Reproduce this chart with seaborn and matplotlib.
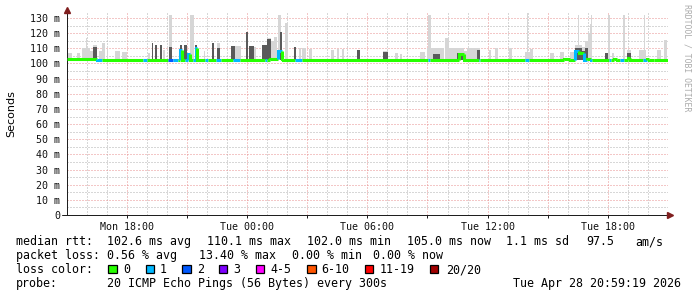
import matplotlib
matplotlib.use("Agg")
import matplotlib.pyplot as plt
from matplotlib.patches import Rectangle
from matplotlib.ticker import MultipleLocator
import seaborn as sns

# ---------------- data (time in hours since Mon 15:00) ----------------
x_tick_hours = [3, 6, 9, 12, 15, 18, 21, 24, 27]
x_tick_labels = ["Mon 18:00", "", "Tue 00:00", "", "Tue 06:00", "", "Tue 12:00", "", "Tue 18:00"]
y_tick_values = [0, 10, 20, 30, 40, 50, 60, 70, 80, 90, 100, 110, 120, 130]
y_tick_labels = ["0", "10 m", "20 m", "30 m", "40 m", "50 m", "60 m", "70 m",
                 "80 m", "90 m", "100 m", "110 m", "120 m", "130 m"]

# smoke (ping spread) blocks: start hour, end hour, light top (ms), dark top (ms, 0 = none)
smoke_start = [0.08, 0.5, 0.75, 0.98, 1.17, 1.3, 1.62, 1.75, 2.0, 2.42, 2.75, 4.08, 4.25, 4.42, 4.63,
               4.8, 5.08, 5.63, 5.83, 6.13, 6.38, 6.83, 7.25, 7.5, 8.2, 8.38, 8.97, 9.08, 9.33,
               9.75, 10.0, 10.17, 10.33, 10.55, 10.63, 10.88, 11.33, 11.58, 11.75, 12.08, 13.17,
               13.5, 13.75, 14.47, 15.8, 16.38, 16.63, 17.63, 17.97, 18.05, 18.17, 18.3, 18.88,
               19.05, 19.47, 19.8, 19.97, 20.47, 21.05, 21.38, 22.05, 22.88, 22.98, 23.13, 24.13,
               24.63, 25.13, 25.38, 25.5, 25.72, 25.88, 26.0, 26.1, 26.15, 26.88, 27.0, 27.22,
               27.77, 27.97, 28.55, 28.8, 29.47, 29.8]
smoke_end = [0.25, 0.67, 1.17, 1.03, 1.3, 1.5, 1.75, 1.92, 2.08, 2.67, 3.0, 4.17, 4.33, 4.5, 4.75,
             4.92, 5.25, 5.75, 6.0, 6.33, 6.5, 6.92, 7.33, 7.67, 8.38, 8.72, 9.05, 9.33, 9.45,
             10.0, 10.17, 10.33, 10.5, 10.67, 10.75, 11.02, 11.42, 11.67, 11.92, 12.25, 13.33,
             13.58, 13.83, 14.63, 16.05, 16.55, 16.72, 17.88, 18.05, 18.17, 18.8, 18.6, 19.05,
             19.47, 19.8, 19.97, 20.47, 20.63, 21.17, 21.5, 22.22, 23.13, 23.03, 23.25, 24.3,
             24.8, 25.38, 25.72, 25.55, 25.88, 26.0, 26.1, 26.22, 26.22, 27.0, 27.1, 27.3,
             27.83, 28.13, 28.88, 28.87, 29.63, 29.97]
smoke_light = [106.7, 106.7, 110.0, 116.6, 108.5, 112.0, 108.0, 113.7, 108.0, 108.5, 107.8, 106.7, 113.3,
               112.2, 112.2, 109.0, 132.0, 112.2, 112.2, 132.0, 112.2, 108.0, 113.3, 113.3, 111.5,
               111.5, 121.0, 111.5, 111.0, 112.4, 116.6, 115.0, 117.5, 132.0, 121.0, 126.5, 111.0,
               110.0, 110.0, 109.5, 108.6, 109.5, 109.5, 109.0, 108.5, 106.7, 106.0, 107.5, 110.0,
               132.0, 110.0, 110.0, 117.0, 110.0, 110.0, 108.0, 110.0, 110.0, 108.9, 110.0, 110.0,
               107.5, 133.0, 109.5, 106.7, 107.8, 107.8, 112.0, 132.0, 111.0, 115.0, 120.0, 126.0,
               132.0, 106.7, 132.0, 106.7, 132.0, 108.9, 108.9, 132.0, 108.9, 115.5]
smoke_dark = [0, 0, 0, 0, 0, 110.8, 0, 0, 0, 0, 0, 0, 113.3,
              112.2, 112.2, 0, 110.8, 112.2, 112.2, 0, 112.2, 0, 113.3, 110.0, 111.5,
              0, 121.0, 111.5, 0, 112.4, 116.0, 0, 0, 0, 121.0, 0, 111.0,
              0, 0, 0, 0, 0, 0, 109.0, 107.8, 0, 0, 0, 0,
              0, 0, 106.0, 0, 0, 107.0, 0, 0, 108.9, 0, 0, 0,
              0, 0, 0, 0, 0, 0, 110.0, 0, 108.0, 110.0, 0, 0,
              0, 106.7, 0, 0, 0, 106.7, 0, 0, 0, 0]

# median rtt segments: start hour, value (ms), lost pings out of 20 (segment ends at next start / 30 h)
median_start = [0.0, 1.5, 1.75, 3.8, 4.0, 5.05, 5.3, 5.55, 5.65, 5.75, 5.9, 6.05, 6.15, 6.3, 6.45,
                6.5, 6.9, 7.05, 7.47, 7.72, 8.3, 8.63, 9.88, 9.97, 10.13, 10.55, 10.72, 10.8,
                11.38, 11.72, 18.05, 18.13, 19.55, 19.8, 20.57, 20.63, 22.88, 23.05, 24.8, 25.13,
                25.38, 25.55, 25.8, 25.97, 26.17, 26.22, 27.05, 27.15, 27.3, 27.45, 27.63, 27.8,
                28.0, 28.1, 28.77, 28.93, 29.05, 29.3]
median_ms = [102.9, 102.3, 102.6, 102.3, 102.5, 102.3, 102.3, 102.5, 109.0, 102.5, 102.3, 106.5,
             102.5, 102.3, 110.0, 102.5, 102.3, 102.5, 102.3, 102.6, 102.3, 102.6, 102.3, 102.6,
             103.2, 108.0, 103.2, 102.6, 102.3, 102.5, 102.3, 102.5, 106.0, 102.5, 102.3, 102.5,
             102.3, 102.5, 103.2, 102.6, 108.0, 107.0, 102.3, 103.2, 102.3, 102.6, 102.3, 102.6,
             103.2, 102.6, 102.3, 102.6, 103.5, 102.6, 102.3, 103.2, 102.6, 102.5]
median_loss = [0, 1, 0, 1, 0, 2, 1, 0, 1, 0, 1, 1, 0, 1, 1, 0, 1, 0, 1, 0, 1, 0, 1, 0,
               0, 1, 0, 0, 1, 0, 1, 0, 0, 0, 1, 0, 1, 0, 0, 0, 1, 0, 1, 0, 1, 0, 1, 0,
               0, 0, 1, 0, 0, 0, 1, 0, 0, 0]
time_end = 30.0

loss_labels = ["0", "1", "2", "3", "4-5", "6-10", "11-19", "20/20"]
loss_colors = ["#26ff00", "#00b8ff", "#0059ff", "#7e00ff", "#ff00ff", "#ff5500", "#ff0000", "#a10000"]

stats_rtt = ["102.6 ms avg", "110.1 ms max", "102.0 ms min", "105.0 ms now", "1.1 ms sd", "97.5", "am/s"]
stats_loss = ["0.56 % avg", "13.40 % max", "0.00 % min", "0.00 % now"]
probe_text = "20 ICMP Echo Pings (56 Bytes) every 300s"
stamp_text = "Tue Apr 28 20:59:19 2026"

# ---------------- figure ----------------
sns.set_theme(style="white")
MONO = ["DejaVu Sans Mono", "DejaVu Sans"]
plt.rcParams["font.family"] = MONO

W, H = 697, 297
fig = plt.figure(figsize=(W / 100, H / 100), dpi=100)
fig.patch.set_facecolor("white")
L, R, T, B = 66.7, 668.0, 13.0, 215.0
ax = fig.add_axes([L / W, 1 - B / H, (R - L) / W, (B - T) / H])
ax.set_facecolor("white")
ax.set_xlim(0, time_end)
ax.set_ylim(0, 133.3)

# grid (dotted)
MAJ = "#e89090"
MIN = "#b0b0b0"
ax.set_xticks(x_tick_hours)
ax.set_xticklabels(x_tick_labels)
ax.xaxis.set_minor_locator(MultipleLocator(1))
ax.set_yticks(y_tick_values)
ax.set_yticklabels(y_tick_labels)
ax.yaxis.set_minor_locator(MultipleLocator(5))
ax.grid(which="major", color=MAJ, linestyle=(0, (1, 2)), linewidth=0.72)
ax.grid(which="minor", color=MIN, linestyle=(0, (1, 2)), linewidth=0.72)
ax.set_axisbelow(True)

# smoke
base = 102.0
for s, e, lt in zip(smoke_start, smoke_end, smoke_light):
    ax.bar(s, lt - base, width=e - s, bottom=base, align="edge", color="#d6d6d6", linewidth=0, zorder=2)
for s, e, dk in zip(smoke_start, smoke_end, smoke_dark):
    if dk > 0:
        ax.bar(s, dk - base, width=e - s, bottom=base, align="edge", color="#5a5a5a", linewidth=0, zorder=3)

# median line coloured by loss
ends = median_start[1:] + [time_end]
prev = median_ms[0]
for s, e, v, lo in zip(median_start, ends, median_ms, median_loss):
    sns.lineplot(x=[s, s, e], y=[prev, v, v], color=loss_colors[lo], linewidth=2.2,
                 estimator=None, sort=False, ax=ax, legend=False, zorder=4,
                 solid_capstyle="butt", solid_joinstyle="miter")
    prev = v

# axes styling
for sp in ["top", "right", "bottom"]:
    ax.spines[sp].set_visible(False)
ax.spines["left"].set_color("#1f1f1f")
ax.spines["left"].set_linewidth(0.72)
ax.plot([-0.23, 30.12], [0, 0], color="#1f1f1f", lw=0.72, clip_on=False, zorder=5)
ax.plot([30.12], [0], marker=">", color="#801f1f", markersize=4.5, clip_on=False, zorder=6)
ax.plot([0], [135.0], marker="^", color="#801f1f", markersize=4.5, clip_on=False, zorder=6)

ax.tick_params(axis="x", which="major", length=2.2, width=0.72, color="#1f1f1f", pad=2.5,
               labelsize=7.2, labelcolor="#111111", direction="out", bottom=True)
ax.tick_params(axis="x", which="minor", length=0)
ax.tick_params(axis="y", which="both", length=0, pad=4.6, labelsize=7.2, labelcolor="#111111", left=True)

# texts
def px(x, y, s, **kw):
    fig.text(x / W, 1 - y / H, s, fontsize=kw.pop("fontsize", 8.35), family=kw.pop("family", MONO),
             color=kw.pop("color", "black"), **kw)

px(11, 114, "Seconds", family=["DejaVu Sans"], fontsize=8, rotation=90, ha="center", va="center")
px(687, 58, "RRDTOOL / TOBI OETIKER", fontsize=5.9, rotation=270, ha="center", va="center", color="#ababab")

b1, b2, b3, b4 = 245.3, 259.2, 273.1, 287.0
px(16, b1, "median rtt:", va="baseline")
for xx, s in zip([107.3, 207.3, 307.3, 407.3, 505.5, 586, 635], stats_rtt):
    px(xx, b1, s, va="baseline")
px(16, b2, "packet loss:", va="baseline")
for xx, s in zip([107.3, 199.0, 292.3, 372.7], stats_loss):
    px(xx, b2, s, va="baseline")
px(16, b3, "loss color:", va="baseline")
sq_x = [108.3, 145.7, 182.3, 219.0, 255.7, 307.3, 365.0, 430.0]
tx_x = [123.3, 160.0, 196.7, 233.3, 270.7, 321.7, 380.0, 445.7]
for sx, tx, lab, col in zip(sq_x, tx_x, loss_labels, loss_colors):
    fig.add_artist(Rectangle((sx / W, 1 - 273.3 / H), 8.3 / W, 8.3 / H, transform=fig.transFigure,
                             facecolor=col, edgecolor="black", linewidth=0.9))
    px(tx, b3, lab, va="baseline")
px(16, b4, "probe:", va="baseline")
px(107.3, b4, probe_text, va="baseline")
px(513, b4, stamp_text, va="baseline")

fig.savefig("out.png", dpi=100, facecolor="white")
